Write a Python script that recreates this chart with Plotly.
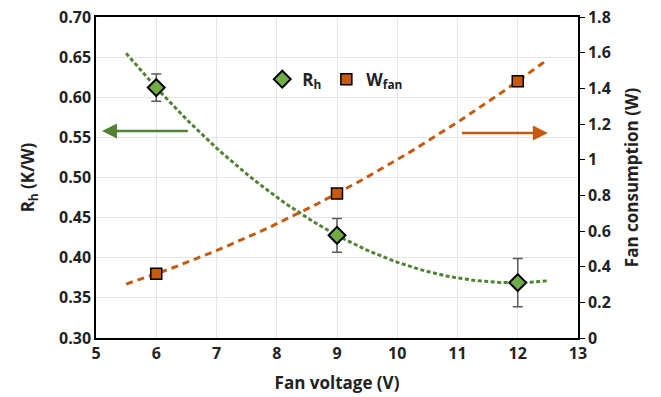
import numpy as np
import plotly.graph_objects as go

voltage = [6, 9, 12]
rh = [0.612, 0.428, 0.369]
rh_err = [0.017, 0.021, 0.030]
wfan = [0.36, 0.81, 1.44]

x_fit = np.linspace(5.5, 12.5, 80)
rh_fit = np.polyval(np.polyfit(voltage, rh, 2), x_fit)
w_fit = np.polyval(np.polyfit(voltage, wfan, 2), x_fit)

green = "#548235"
green_m = "#70AD47"
orange = "#C55A11"
font = "Open Sans"

fig = go.Figure()
fig.add_trace(go.Scatter(x=x_fit, y=rh_fit, mode="lines", showlegend=False,
                         line=dict(color=green, width=3, dash="4px,2.5px")))
fig.add_trace(go.Scatter(x=x_fit, y=w_fit, mode="lines", showlegend=False, yaxis="y2",
                         line=dict(color=orange, width=3, dash="7px,5px")))
fig.add_trace(go.Scatter(x=voltage, y=rh, mode="markers", name="R<sub>h</sub>",
                         marker=dict(symbol="diamond", size=13, color=green_m,
                                     line=dict(color="black", width=2)),
                         error_y=dict(type="data", array=rh_err, color="#595959",
                                      thickness=1.5, width=5)))
fig.add_trace(go.Scatter(x=voltage, y=wfan, mode="markers", name="W<sub>fan</sub>", yaxis="y2",
                         marker=dict(symbol="square", size=11, color=orange,
                                     line=dict(color="black", width=1.5))))

fig.add_annotation(x=5.1, y=0.558, ax=6.55, ay=0.558, xref="x", yref="y", axref="x", ayref="y",
                   text="", showarrow=True, arrowhead=2, arrowsize=1.2, arrowwidth=2.5, arrowcolor=green)
fig.add_annotation(x=12.5, y=1.15, ax=11.05, ay=1.15, xref="x", yref="y2", axref="x", ayref="y2",
                   text="", showarrow=True, arrowhead=2, arrowsize=1.2, arrowwidth=2.5, arrowcolor=orange)

fig.update_layout(
    width=661, height=397,
    margin=dict(l=96, r=83, t=17, b=59),
    plot_bgcolor="white", paper_bgcolor="white",
    font=dict(family=font, size=16, color="#222222"),
    legend=dict(orientation="h", x=0.345, y=0.805, xanchor="left", yanchor="middle",
                bgcolor="rgba(255,255,255,0)", font=dict(size=17, family=font, weight="bold"),
                itemwidth=30),
    xaxis=dict(range=[5, 13], dtick=1, showgrid=True, gridcolor="#E6E6E6",
               showline=True, linecolor="black", linewidth=1.5, mirror=True,
               ticks="", tickfont=dict(weight="bold", size=16), automargin=False,
               title=dict(text="Fan voltage (V)", font=dict(weight="bold", size=17), standoff=14),
               zeroline=False),
    yaxis=dict(range=[0.3, 0.7], dtick=0.05, tickformat=".2f", showgrid=True, gridcolor="#E6E6E6",
               showline=True, linecolor="black", linewidth=1.5, ticks="", automargin=False,
               tickfont=dict(weight="bold", size=16),
               title=dict(text="R<sub>h</sub> (K/W)", font=dict(weight="bold", size=17), standoff=20),
               zeroline=False),
    yaxis2=dict(range=[0, 1.8], dtick=0.2, overlaying="y", side="right", showgrid=False,
                showline=True, linecolor="black", linewidth=1.5, ticks="outside", ticklen=5,
                tickcolor="black", tickfont=dict(weight="bold", size=16), automargin=False,
                title=dict(text="Fan consumption (W)", font=dict(weight="bold", size=17), standoff=16),
                zeroline=False),
)

fig.write_html("out.html")
